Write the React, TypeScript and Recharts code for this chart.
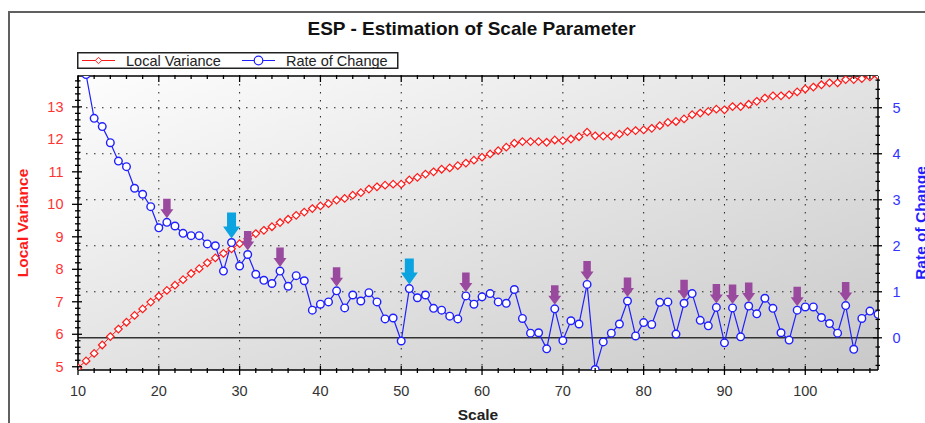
import React from 'react';
import { LineChart, Line, XAxis, YAxis, CartesianGrid, ReferenceLine } from 'recharts';

const FONT = '"Liberation Sans", Arial, sans-serif';

// scale parameter 10..109
const scales = Array.from({ length: 100 }, (_, i) => 10 + i);

const localVariance = [
  4.97, 5.18, 5.41, 5.67, 5.93, 6.16, 6.37, 6.58, 6.78, 6.99,
  7.17, 7.35, 7.51, 7.68, 7.87, 8.02, 8.2, 8.35, 8.49, 8.63,
  8.79, 8.94, 9.1, 9.2, 9.31, 9.44, 9.54, 9.66, 9.76, 9.87,
  9.95, 10.02, 10.13, 10.18, 10.28, 10.36, 10.47, 10.54, 10.59, 10.62,
  10.62, 10.75, 10.83, 10.93, 11.0, 11.08, 11.12, 11.19, 11.27, 11.36,
  11.45, 11.55, 11.65, 11.76, 11.88, 11.93, 11.93, 11.93, 11.91, 11.98,
  11.96, 12.01, 12.08, 12.22, 12.11, 12.1, 12.1, 12.16, 12.24, 12.27,
  12.29, 12.34, 12.42, 12.52, 12.55, 12.63, 12.76, 12.81, 12.86, 12.93,
  12.91, 13.01, 13.01, 13.08, 13.17, 13.27, 13.34, 13.34, 13.37, 13.46,
  13.55, 13.61, 13.68, 13.74, 13.74, 13.84, 13.84, 13.87, 13.92, 13.96,
];

const rateOfChange = [
  null, 5.72, 4.77, 4.59, 4.24, 3.84, 3.72, 3.25, 3.12, 2.85,
  2.39, 2.51, 2.43, 2.27, 2.22, 2.22, 2.04, 2.0, 1.45, 2.07,
  1.56, 1.81, 1.38, 1.25, 1.18, 1.45, 1.12, 1.35, 1.24, 0.6,
  0.73, 0.78, 1.02, 0.65, 0.93, 0.8, 0.98, 0.78, 0.41, 0.43,
  -0.07, 1.07, 0.87, 0.93, 0.64, 0.6, 0.47, 0.41, 0.91, 0.73,
  0.89, 0.96, 0.78, 0.75, 1.05, 0.42, 0.1, 0.11, -0.24, 0.63,
  -0.06, 0.37, 0.3, 1.16, -0.69, -0.09, 0.1, 0.3, 0.8, 0.04,
  0.33, 0.29, 0.77, 0.78, 0.08, 0.75, 0.96, 0.38, 0.26, 0.66,
  -0.11, 0.65, 0.02, 0.69, 0.52, 0.86, 0.64, 0.11, -0.05, 0.6,
  0.67, 0.67, 0.44, 0.31, 0.1, 0.7, -0.25, 0.42, 0.58, 0.51,
];

const purpleArrows = [21, 31, 35, 42, 58, 69, 73, 78, 85, 89, 91, 93, 99, 105];
const cyanArrows = [29, 51];

const xTickLabels = [10, 20, 30, 40, 50, 60, 70, 80, 90, 100];
const leftTickLabels = [5, 6, 7, 8, 9, 10, 11, 12, 13];
const rightTickLabels = [0, 1, 2, 3, 4, 5];

const steps = (from: number, to: number, step: number) => {
  const out: number[] = [];
  for (let v = from; v <= to + 1e-9; v += step) out.push(Math.round(v * 10) / 10);
  return out;
};
const xTicks = steps(10, 108, 2);
const leftTicks = steps(5, 13.8, 0.2);
const rightTicks = steps(-0.6, 5.6, 0.2);

const rows = scales.map((s, i) => ({ scale: s, lv: localVariance[i], roc: rateOfChange[i] }));

const isMajor = (v: number, labels: number[]) => labels.some((l) => Math.abs(l - v) < 1e-6);

const BottomTick = ({ x, y, payload }: any) => {
  const major = isMajor(payload.value, xTickLabels);
  return (
    <g>
      <line x1={x} x2={x} y1={y - (major ? 4 : 2)} y2={y + (major ? 5 : 3)} stroke="#000" strokeWidth={1.3} />
      {major && (
        <text x={x} y={y + 21} textAnchor="middle" dominantBaseline="central" fontSize={14.5} fontFamily={FONT} fill="#333">
          {payload.value}
        </text>
      )}
    </g>
  );
};

const TopTick = ({ x, y, payload }: any) => {
  const major = isMajor(payload.value, xTickLabels);
  return <line x1={x} x2={x} y1={y - 1} y2={y + (major ? 6 : 3)} stroke="#000" strokeWidth={1.3} />;
};

const LeftTick = ({ x, y, payload }: any) => {
  const major = isMajor(payload.value, leftTickLabels);
  return (
    <g>
      <line x1={x - (major ? 6 : 3)} x2={x + (major ? 4 : 2.5)} y1={y} y2={y} stroke="#000" strokeWidth={1.3} />
      {major && (
        <text x={x - 14.5} y={y} textAnchor="end" dominantBaseline="central" fontSize={14.5} fontFamily={FONT} fill="#ff3333">
          {payload.value}
        </text>
      )}
    </g>
  );
};

const RightTick = ({ x, y, payload }: any) => {
  const major = isMajor(payload.value, rightTickLabels);
  return (
    <g>
      <line x1={x - (major ? 5 : 2.5)} x2={x + (major ? 4 : 2)} y1={y} y2={y} stroke="#000" strokeWidth={1.3} />
      {major && (
        <text x={x + 14.5} y={y} textAnchor="start" dominantBaseline="central" fontSize={14.5} fontFamily={FONT} fill="#3333ff">
          {payload.value}
        </text>
      )}
    </g>
  );
};

const axisTitle = (text: string, color: string, dx: number, rotate: boolean) => (props: any) => {
  const vb = props.viewBox;
  const cx = rotate ? vb.x + dx : vb.x + vb.width / 2;
  const cy = rotate ? vb.y + vb.height / 2 : vb.y + dx;
  return (
    <text
      x={cx}
      y={cy}
      textAnchor="middle"
      dominantBaseline="central"
      transform={rotate ? `rotate(-90, ${cx}, ${cy})` : undefined}
      fontSize={15.5}
      fontWeight="bold"
      fontFamily={FONT}
      fill={color}
    >
      {text}
    </text>
  );
};

const arrowPath = (cx: number, tip: number, hw: number, hh: number, sw: number, sh: number) =>
  `M${cx},${tip} L${cx - hw / 2},${tip - hh} L${cx - sw / 2},${tip - hh} L${cx - sw / 2},${tip - hh - sh} ` +
  `L${cx + sw / 2},${tip - hh - sh} L${cx + sw / 2},${tip - hh} L${cx + hw / 2},${tip - hh} Z`;

const LvDot = (props: any) => {
  const { cx, cy, index } = props;
  if (cx == null || cy == null) return <g key={`lv-${index}`} />;
  const r = 3.8;
  return (
    <path
      key={`lv-${index}`}
      d={`M${cx},${cy - r} L${cx + r},${cy} L${cx},${cy + r} L${cx - r},${cy} Z`}
      fill="#fff"
      stroke="#ff1a1a"
      strokeWidth={1.2}
    />
  );
};

const RocDot = (props: any) => {
  const { cx, cy, index, payload } = props;
  if (cx == null || cy == null) return <g key={`roc-${index}`} />;
  const purple = purpleArrows.includes(payload.scale);
  const cyan = cyanArrows.includes(payload.scale);
  return (
    <g key={`roc-${index}`}>
      <circle cx={cx} cy={cy} r={3.8} fill="#fff" stroke="#1f1fff" strokeWidth={1.4} />
      {purple && <path d={arrowPath(cx, cy - 4, 13, 9, 7.5, 10.5)} fill="#9a4a9e" />}
      {cyan && <path d={arrowPath(cx, cy - 4, 17, 12, 9, 14)} fill="#0ba3e0" />}
    </g>
  );
};

const LegendBox = () => (
  <svg width={322} height={17} style={{ position: 'absolute', left: 77, top: 52 }}>
    <rect x={0.75} y={0.75} width={320} height={15.5} fill="#fff" stroke="#222" strokeWidth={1.5} />
    <line x1={5} x2={38} y1={8.5} y2={8.5} stroke="#ff1a1a" strokeWidth={1} />
    <path d="M21.5,5.3 L24.7,8.5 L21.5,11.7 L18.3,8.5 Z" fill="#fff" stroke="#ff1a1a" strokeWidth={1} />
    <text x={49} y={8.5} dominantBaseline="central" fontSize={14.5} fontFamily={FONT} fill="#222">
      Local Variance
    </text>
    <line x1={165} x2={198} y1={8.5} y2={8.5} stroke="#1f1fff" strokeWidth={1} />
    <circle cx={181.5} cy={8.5} r={4.3} fill="#fff" stroke="#1f1fff" strokeWidth={1.2} />
    <text x={209} y={8.5} dominantBaseline="central" fontSize={14.5} fontFamily={FONT} fill="#222">
      Rate of Change
    </text>
  </svg>
);

export default function App() {
  return (
    <div
      style={{
        position: 'fixed',
        left: 0,
        top: 0,
        width: 925,
        height: 423,
        overflow: 'hidden',
        background: '#fff',
        fontFamily: FONT,
      }}
    >
      <div
        style={{
          position: 'absolute',
          left: 8,
          top: 11,
          width: 1000,
          height: 1000,
          borderLeft: '2px solid #606060',
          borderTop: '2px solid #606060',
        }}
      />
      <div style={{ position: 'absolute', left: 0, top: 0 }}>
        <LineChart width={925} height={423} data={rows} margin={{ top: 68, right: 0, bottom: 0, left: 0 }}>
          <defs>
            <linearGradient id="plotBg" x1="0" y1="0" x2="1" y2="1">
              <stop offset="0%" stopColor="#fdfdfd" />
              <stop offset="100%" stopColor="#c9c9c9" />
            </linearGradient>
          </defs>
          <CartesianGrid
            yAxisId="right"
            horizontalValues={[1, 2, 3, 4, 5]}
            verticalValues={[20, 30, 40, 50, 60, 70, 80, 90, 100]}
            stroke="#222"
            strokeDasharray="1.5 6.5"
            fill="url(#plotBg)"
            fillOpacity={1}
          />
          <XAxis
            type="number"
            dataKey="scale"
            domain={[10, 109]}
            allowDataOverflow
            ticks={xTicks}
            interval={0}
            height={53}
            tickSize={0}
            tickMargin={0}
            tickLine={false}
            tick={BottomTick}
            axisLine={{ stroke: '#000', strokeWidth: 1.6 }}
            label={axisTitle('Scale', '#222', 44, false)}
          />
          <XAxis
            xAxisId="top"
            orientation="top"
            type="number"
            dataKey="scale"
            domain={[10, 109]}
            allowDataOverflow
            ticks={xTicks}
            interval={0}
            height={8}
            tickSize={0}
            tickMargin={0}
            tickLine={false}
            tick={TopTick}
            axisLine={{ stroke: '#000', strokeWidth: 1.5 }}
          />
          <YAxis
            yAxisId="left"
            orientation="left"
            width={78}
            domain={[4.9, 13.95]}
            allowDataOverflow
            ticks={leftTicks}
            interval={0}
            tickSize={0}
            tickMargin={0}
            tickLine={false}
            tick={LeftTick}
            axisLine={{ stroke: '#000', strokeWidth: 1.6 }}
            label={axisTitle('Local Variance', '#ff1a1a', 22, true)}
          />
          <YAxis
            yAxisId="right"
            orientation="right"
            width={47}
            domain={[-0.7, 5.69]}
            allowDataOverflow
            ticks={rightTicks}
            interval={0}
            tickSize={0}
            tickMargin={0}
            tickLine={false}
            tick={RightTick}
            axisLine={{ stroke: '#000', strokeWidth: 1.5 }}
            label={axisTitle('Rate of Change', '#1f1fff', 42, true)}
          />
          <ReferenceLine yAxisId="right" y={0} stroke="#333" strokeWidth={1.5} />
          <Line
            yAxisId="left"
            dataKey="lv"
            stroke="#ff1a1a"
            strokeWidth={1}
            dot={LvDot}
            activeDot={false}
            isAnimationActive={false}
          />
          <Line
            yAxisId="right"
            dataKey="roc"
            stroke="#1f1fff"
            strokeWidth={1.2}
            dot={RocDot}
            activeDot={false}
            isAnimationActive={false}
          />
        </LineChart>
      </div>
      <div
        style={{
          position: 'absolute',
          left: 0,
          width: 943,
          top: 18,
          textAlign: 'center',
          fontSize: 19,
          fontWeight: 'bold',
          lineHeight: '22px',
          color: '#111',
        }}
      >
        ESP - Estimation of Scale Parameter
      </div>
      <LegendBox />
    </div>
  );
}
